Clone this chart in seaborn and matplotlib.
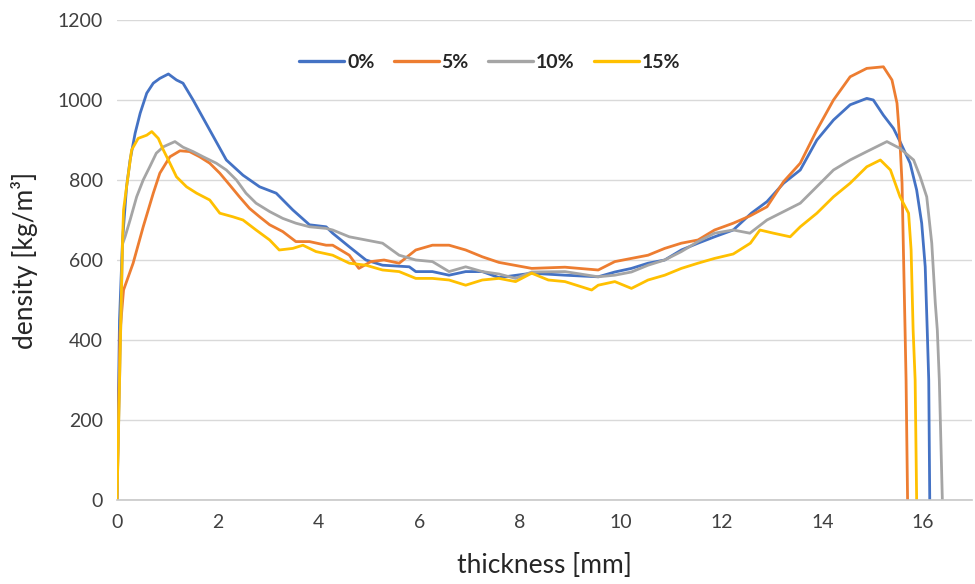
import matplotlib
matplotlib.use("Agg")
import matplotlib.pyplot as plt
import seaborn as sns
import pandas as pd

# ---- data ----
series_labels = ["0%", "5%", "10%", "15%"]
series_colors = ["#4472C4", "#ED7D31", "#A5A5A5", "#FFC000"]

x_0 = [0.00, 0.05, 0.11, 0.19, 0.26, 0.36, 0.46, 0.59, 0.72, 0.85, 1.02, 1.18, 1.31, 1.51,
       1.84, 2.17, 2.50, 2.83, 3.16, 3.49, 3.82, 4.15, 4.28, 4.61, 4.94, 5.27, 5.80, 5.93,
       6.26, 6.59, 6.92, 7.25, 7.58, 8.23, 8.89, 9.55, 9.88, 10.21, 10.54, 10.87, 11.20,
       11.53, 11.86, 12.23, 12.59, 12.90, 13.23, 13.56, 13.89, 14.22, 14.55, 14.88, 15.01,
       15.21, 15.41, 15.54, 15.74, 15.87, 15.97, 16.04, 16.08, 16.11, 16.13]
y_0 = [0, 450, 650, 783, 850, 917, 967, 1017, 1042, 1054, 1065, 1050, 1042, 1000,
       925, 850, 812, 783, 767, 725, 688, 683, 667, 633, 600, 587, 583, 571,
       571, 562, 571, 571, 556, 567, 562, 558, 570, 579, 592, 600, 625,
       642, 658, 675, 717, 746, 792, 825, 900, 950, 988, 1004, 1000,
       962, 929, 896, 842, 775, 692, 583, 425, 300, 0]

x_5 = [0.00, 0.06, 0.13, 0.32, 0.52, 0.72, 0.85, 1.05, 1.25, 1.44, 1.64, 1.84, 2.04, 2.24,
       2.43, 2.63, 2.83, 3.03, 3.29, 3.55, 3.82, 4.15, 4.28, 4.61, 4.80, 5.04, 5.30, 5.60,
       5.93, 6.26, 6.59, 6.92, 7.25, 7.58, 8.23, 8.89, 9.55, 9.88, 10.21, 10.54, 10.87,
       11.20, 11.53, 11.86, 12.23, 12.56, 12.90, 13.23, 13.56, 13.89, 14.22, 14.55, 14.88,
       15.21, 15.38, 15.48, 15.54, 15.58, 15.61, 15.64, 15.66, 15.69]
y_5 = [0, 420, 525, 592, 683, 767, 817, 858, 873, 871, 858, 842, 817, 787,
       758, 729, 708, 688, 671, 646, 646, 637, 637, 612, 579, 596, 600, 592,
       625, 637, 637, 625, 608, 594, 579, 582, 575, 596, 604, 612, 629,
       642, 650, 675, 692, 710, 733, 796, 842, 925, 1000, 1058, 1079,
       1083, 1050, 992, 892, 792, 608, 425, 300, 0]

x_10 = [0.00, 0.11, 0.16, 0.26, 0.39, 0.52, 0.65, 0.78, 0.92, 1.15, 1.31, 1.51, 1.71, 1.97,
        2.17, 2.37, 2.56, 2.76, 3.03, 3.29, 3.55, 3.82, 4.15, 4.28, 4.61, 4.94, 5.27, 5.60,
        5.93, 6.26, 6.59, 6.92, 7.25, 7.58, 7.91, 8.23, 8.89, 9.55, 9.88, 10.21, 10.54,
        10.87, 11.20, 11.53, 11.86, 12.23, 12.56, 12.90, 13.56, 14.22, 14.55, 14.88, 15.28,
        15.54, 15.81, 15.94, 16.07, 16.17, 16.24, 16.28, 16.32, 16.38]
y_10 = [0, 640, 658, 700, 758, 800, 833, 867, 883, 896, 882, 871, 858, 842,
        825, 800, 767, 742, 721, 704, 692, 683, 679, 675, 658, 650, 642, 612,
        600, 596, 571, 583, 571, 565, 554, 570, 571, 558, 562, 570, 587,
        600, 621, 646, 667, 675, 667, 700, 742, 825, 850, 871, 896,
        879, 850, 808, 758, 642, 492, 425, 300, 0]

x_15 = [0.00, 0.11, 0.13, 0.19, 0.29, 0.42, 0.59, 0.69, 0.82, 0.92, 1.05, 1.18, 1.38, 1.58,
        1.84, 2.04, 2.30, 2.50, 2.76, 3.03, 3.22, 3.49, 3.69, 3.95, 4.28, 4.61, 4.94, 5.27,
        5.60, 5.93, 6.26, 6.59, 6.92, 7.25, 7.58, 7.91, 8.23, 8.56, 8.89, 9.42, 9.55, 9.88,
        10.21, 10.54, 10.87, 11.20, 11.53, 11.86, 12.23, 12.57, 12.76, 13.03, 13.36, 13.56,
        13.89, 14.22, 14.55, 14.88, 15.15, 15.35, 15.54, 15.71, 15.76, 15.80, 15.84, 15.87]
y_15 = [0, 650, 725, 783, 875, 904, 912, 921, 904, 875, 842, 808, 783, 767,
        750, 717, 708, 700, 675, 650, 625, 629, 637, 621, 612, 592, 587, 575,
        571, 554, 554, 550, 537, 550, 554, 546, 567, 550, 546, 525, 537, 546,
        529, 550, 562, 579, 592, 604, 615, 642, 675, 667, 658, 683,
        717, 758, 792, 833, 850, 825, 758, 717, 625, 425, 300, 0]

x_ticks = [0, 2, 4, 6, 8, 10, 12, 14, 16]
y_ticks = [0, 200, 400, 600, 800, 1000, 1200]

# ---- build long table ----
frames = []
for lab, xs, ys in zip(series_labels, [x_0, x_5, x_10, x_15], [y_0, y_5, y_10, y_15]):
    frames.append(pd.DataFrame({"thickness": xs, "density": ys, "series": lab}))
df = pd.concat(frames, ignore_index=True)

sns.set_theme(style="white")
plt.rcParams["font.family"] = ["Lato", "DejaVu Sans"]

fig = plt.figure(figsize=(9.75, 5.84), dpi=100)
ax = fig.add_axes([0.12, 0.1438, 0.877, 0.822])

sns.lineplot(data=df, x="thickness", y="density", hue="series",
             hue_order=series_labels, palette=series_colors,
             estimator=None, sort=False, linewidth=2.0, ax=ax)

ax.set_xlim(0, 16.97)
ax.set_ylim(0, 1200)
ax.set_xticks(x_ticks)
ax.set_yticks(y_ticks)
ax.tick_params(axis="both", labelsize=14, colors="#404040", length=0)
ax.tick_params(axis="x", pad=10)
ax.tick_params(axis="y", pad=10)
ax.yaxis.grid(True, color="#d9d9d9", linewidth=1.0)
ax.xaxis.grid(False)
ax.set_axisbelow(True)
for s in ["left", "right", "top"]:
    ax.spines[s].set_visible(False)
ax.spines["bottom"].set_color("#c8c8c8")
ax.spines["bottom"].set_linewidth(1.2)

ax.set_xlabel("thickness [mm]", fontsize=19, color="#262626", labelpad=16)
ax.set_ylabel("density [kg/m³]", fontsize=19, color="#262626", labelpad=14)

leg = ax.legend(loc="center", bbox_to_anchor=(0.436, 0.912), ncol=4, frameon=False,
                handlelength=2.3, handletextpad=0.15, columnspacing=1.0,
                prop={"weight": "bold", "size": 14})
for t in leg.get_texts():
    t.set_color("#262626")
for h in leg.get_lines():
    h.set_linewidth(2.4)

fig.savefig("out.png", dpi=100)
